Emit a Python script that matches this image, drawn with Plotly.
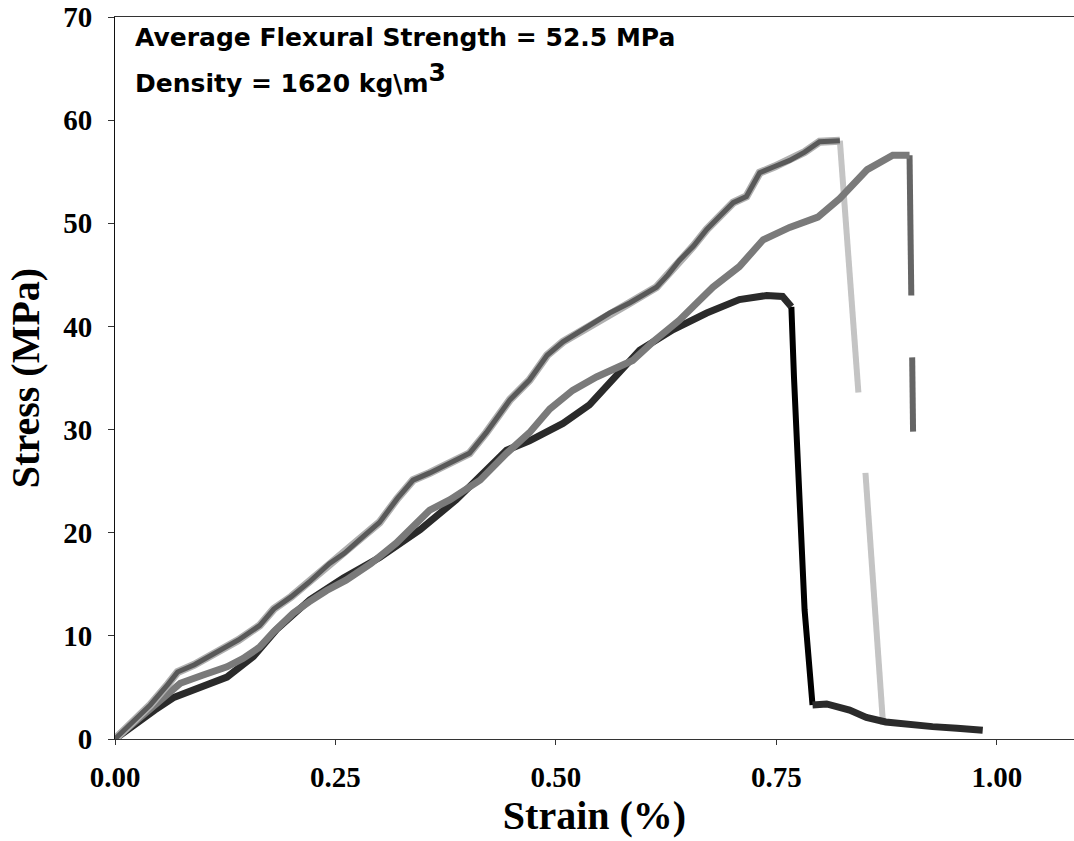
import plotly.graph_objects as go

# Specimen A: loading branch and failure drop
strain_a = [0.0, 0.02, 0.04, 0.06, 0.071, 0.09, 0.119, 0.14, 0.164, 0.18, 0.20, 0.22,
            0.243, 0.26, 0.281, 0.30, 0.32, 0.338, 0.357, 0.38, 0.402, 0.421, 0.435,
            0.448, 0.470, 0.490, 0.508, 0.525, 0.542, 0.561, 0.584, 0.614, 0.627,
            0.640, 0.656, 0.671, 0.686, 0.701, 0.716, 0.731, 0.748, 0.765, 0.782,
            0.799, 0.822]
stress_a = [0.0, 1.6, 3.3, 5.3, 6.5, 7.2, 8.6, 9.6, 11.0, 12.6, 13.8, 15.2,
            17.0, 18.0, 19.6, 21.0, 23.3, 25.1, 25.8, 26.8, 27.7, 29.7, 31.3,
            32.9, 34.8, 37.2, 38.5, 39.4, 40.3, 41.3, 42.3, 43.8, 45.0,
            46.4, 47.8, 49.4, 50.7, 52.0, 52.6, 54.9, 55.5, 56.1, 56.9,
            57.9, 58.0]
strain_a_fail = [0.822, 0.843, None, 0.851, 0.871]
stress_a_fail = [58.0, 33.6, None, 25.8, 1.4]

# Specimen B
strain_b = [0.0, 0.02, 0.04, 0.06, 0.074, 0.10, 0.127, 0.145, 0.164, 0.18, 0.202,
            0.22, 0.24, 0.262, 0.29, 0.319, 0.34, 0.357, 0.38, 0.414, 0.444, 0.47,
            0.493, 0.519, 0.546, 0.57, 0.587, 0.61, 0.640, 0.66, 0.678, 0.708,
            0.735, 0.765, 0.797, 0.822, 0.853, 0.882, 0.901]
stress_b = [0.0, 1.5, 3.0, 4.5, 5.4, 6.2, 7.0, 7.8, 8.9, 10.4, 12.2,
            13.3, 14.4, 15.4, 17.0, 19.0, 20.8, 22.2, 23.2, 25.1, 27.7, 29.7,
            32.0, 33.8, 35.1, 36.0, 36.7, 38.5, 40.6, 42.3, 43.8, 45.8,
            48.4, 49.6, 50.6, 52.4, 55.2, 56.6, 56.6]
strain_b_fail = [0.901, 0.903, None, 0.904, 0.905]
stress_b_fail = [56.6, 43.0, None, 37.0, 29.8]

# Specimen C: loading branch, failure drop, residual tail
strain_c = [0.0, 0.02, 0.045, 0.066, 0.096, 0.127, 0.157, 0.183, 0.221, 0.259, 0.30,
            0.346, 0.387, 0.418, 0.444, 0.47, 0.508, 0.538, 0.561, 0.595, 0.633,
            0.671, 0.708, 0.739, 0.757, 0.767]
stress_c = [0.0, 1.3, 2.8, 4.0, 5.0, 6.0, 8.0, 10.6, 13.5, 15.6, 17.6,
            20.3, 23.2, 25.8, 28.0, 28.9, 30.6, 32.4, 34.6, 37.7, 39.7,
            41.3, 42.6, 43.0, 42.9, 41.9]
strain_c_fail = [0.767, 0.770, 0.782, 0.791]
stress_c_fail = [41.9, 35.0, 12.5, 3.3]
strain_c_tail = [0.791, 0.807, 0.833, 0.852, 0.874, 0.90, 0.927, 0.955, 0.984]
stress_c_tail = [3.3, 3.4, 2.8, 2.1, 1.65, 1.4, 1.2, 1.05, 0.85]

x_ticks = [0.0, 0.25, 0.5, 0.75, 1.0]
x_tick_labels = ["0.00", "0.25", "0.50", "0.75", "1.00"]
y_ticks = [0, 10, 20, 30, 40, 50, 60, 70]

fig = go.Figure()


def add_line(x, y, color, width):
    fig.add_trace(go.Scatter(
        x=x, y=y, mode="lines", connectgaps=False,
        line=dict(color=color, width=width, shape="linear"),
        showlegend=False, hoverinfo="skip",
    ))


# failure lines drawn first, loading branches over them
add_line(strain_a_fail, stress_a_fail, "#c4c4c4", 6)
add_line(strain_b_fail, stress_b_fail, "#656565", 6)
add_line(strain_c_fail, stress_c_fail, "#000000", 6)

add_line(strain_c, stress_c, "#2a2a2a", 7)
add_line(strain_c_tail, stress_c_tail, "#2a2a2a", 7)
add_line(strain_b, stress_b, "#7a7a7a", 7)
add_line(strain_a, stress_a, "#b0b0b0", 8)
add_line(strain_a, stress_a, "#595959", 5)

tick_font = dict(family="Liberation Serif", size=29, color="black")
title_font = dict(family="Liberation Serif", size=40, color="black")

fig.update_layout(
    width=1074, height=841,
    margin=dict(l=115, r=0, t=17, b=102),
    paper_bgcolor="white", plot_bgcolor="white",
    xaxis=dict(
        range=[0, 1.0875], tickvals=x_ticks,
        ticktext=[f"<b>{t}</b>" for t in x_tick_labels],
        showgrid=False, zeroline=False,
        showline=True, linecolor="#333333", linewidth=1, mirror=True,
        ticks="outside", ticklen=5, tickcolor="#333333", tickwidth=1,
        tickfont=tick_font, ticklabelstandoff=7, ticklabeloverflow="allow",
        title=dict(text="<b>Strain (%)</b>", font=title_font, standoff=8),
    ),
    yaxis=dict(
        range=[0, 70], tickvals=y_ticks,
        ticktext=[f"<b>{v}</b>" for v in y_ticks],
        showgrid=False, zeroline=False,
        showline=True, linecolor="#111111", linewidth=1,
        ticks="outside", ticklen=6, tickcolor="#333333", tickwidth=1,
        tickfont=tick_font, ticklabelstandoff=10, ticklabeloverflow="allow",
        title=dict(text="<b>Stress (MPa)</b>", font=title_font, standoff=11),
    ),
)

ann_font = dict(family="DejaVu Sans", size=25, color="black")
fig.add_annotation(
    x=0.02, y=68.0, xref="x", yref="y", xanchor="left", yanchor="middle",
    text="<b>Average Flexural Strength = 52.5 MPa</b>",
    showarrow=False, font=ann_font,
)
fig.add_annotation(
    x=0.02, y=64.1, xref="x", yref="y", xanchor="left", yanchor="middle",
    text="<b>Density = 1620 kg\\m<sup><span style=\"font-size:25px\">3</span></sup></b>",
    showarrow=False, font=ann_font,
)

fig.write_html("out.html")
